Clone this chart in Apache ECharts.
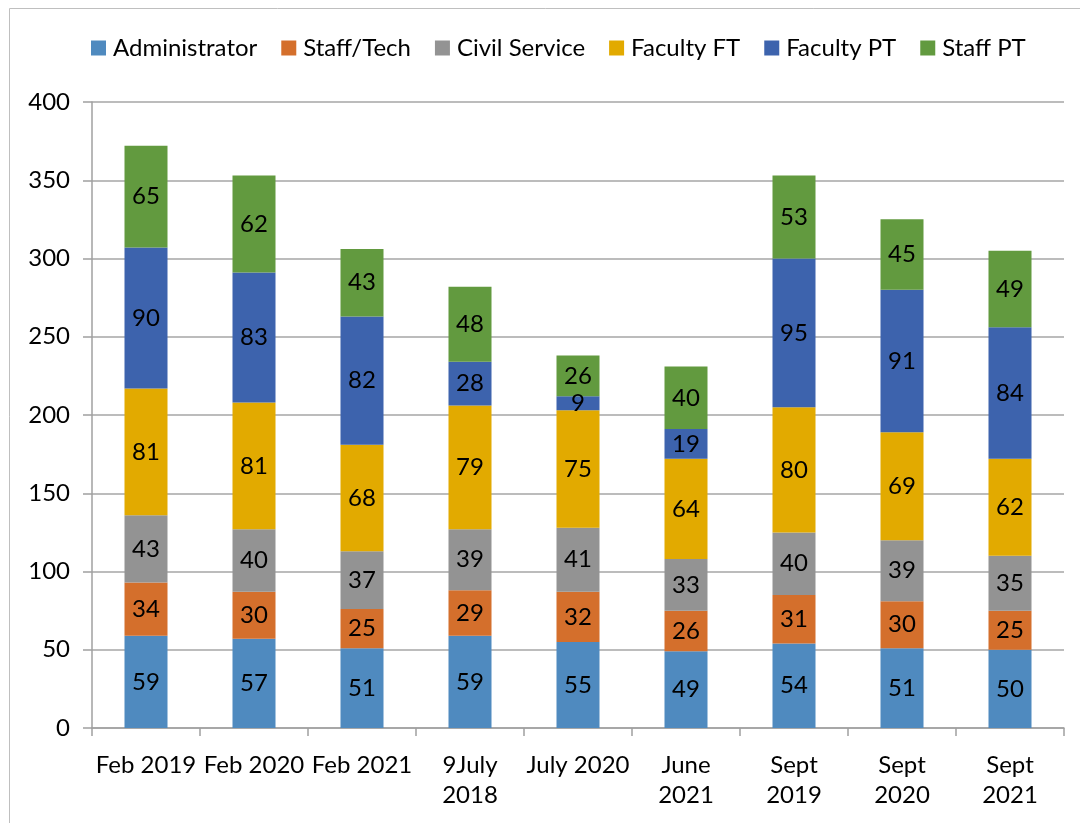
<!DOCTYPE html>
<html>
<head>
<meta charset="utf-8">
<script src="https://cdn.jsdelivr.net/npm/echarts@6/dist/echarts.min.js"></script>
<style>
  html, body { margin: 0; padding: 0; background: #fff; }
  #main { width: 1080px; height: 823px; }
</style>
</head>
<body>
<div id="main"></div>
<script>
var categories = ['Feb 2019', 'Feb 2020', 'Feb 2021', '9July\n2018', 'July 2020', 'June\n2021', 'Sept\n2019', 'Sept\n2020', 'Sept\n2021'];
var administrator = [59, 57, 51, 59, 55, 49, 54, 51, 50];
var staffTech = [34, 30, 25, 29, 32, 26, 31, 30, 25];
var civilService = [43, 40, 37, 39, 41, 33, 40, 39, 35];
var facultyFT = [81, 81, 68, 79, 75, 64, 80, 69, 62];
var facultyPT = [90, 83, 82, 28, 9, 19, 95, 91, 84];
var staffPT = [65, 62, 43, 48, 26, 40, 53, 45, 49];
var yTicks = [0, 50, 100, 150, 200, 250, 300, 350, 400];

var font = 'Lato, "Open Sans", sans-serif';

function mk(name, data, color) {
  return {
    name: name,
    type: 'bar',
    stack: 'total',
    data: data,
    barWidth: 43,
    itemStyle: { color: color },
    label: {
      show: true,
      position: 'inside',
      color: '#000',
      fontSize: 24,
      fontFamily: font
    }
  };
}

var chart = echarts.init(document.getElementById('main'));
chart.setOption({
  animation: false,
  graphic: [{
    type: 'rect',
    shape: { x: 9.5, y: 8.5, width: 1100, height: 900 },
    style: { fill: 'none', stroke: '#bfbfbf', lineWidth: 1 },
    silent: true
  }],
  legend: {
    top: 31,
    left: 86,
    itemWidth: 15,
    itemHeight: 15,
    itemGap: 24,
    icon: 'rect',
    textStyle: { fontSize: 24, fontFamily: font, color: '#000', padding: [0, 0, 0, 2] },
    data: ['Administrator', 'Staff/Tech', 'Civil Service', 'Faculty FT', 'Faculty PT', 'Staff PT']
  },
  grid: { left: 92, right: 16, top: 102, bottom: 95 },
  xAxis: {
    type: 'category',
    data: categories,
    axisLine: { lineStyle: { color: '#a0a0a0', width: 1.5 } },
    axisTick: { show: true, length: 8, lineStyle: { color: '#a0a0a0', width: 1.5 } },
    axisLabel: { color: '#000', fontSize: 24, fontFamily: font, margin: 22, lineHeight: 30, interval: 0 }
  },
  yAxis: {
    type: 'value',
    min: 0,
    max: 400,
    interval: 50,
    axisLine: { show: true, lineStyle: { color: '#a0a0a0', width: 1.5 } },
    axisTick: { show: true, length: 9, lineStyle: { color: '#a0a0a0', width: 1.5 } },
    axisLabel: {
      color: '#000', fontSize: 24, fontFamily: font, margin: 22,
      formatter: function (v) { return yTicks.indexOf(v) >= 0 ? String(v) : ''; }
    },
    splitLine: { lineStyle: { color: '#a6a6a6', width: 1.5 } }
  },
  series: [
    mk('Administrator', administrator, '#4f8abf'),
    mk('Staff/Tech', staffTech, '#d46f2c'),
    mk('Civil Service', civilService, '#939393'),
    mk('Faculty FT', facultyFT, '#e2aa00'),
    mk('Faculty PT', facultyPT, '#3d63ad'),
    mk('Staff PT', staffPT, '#629a3f')
  ]
});
</script>
</body>
</html>
